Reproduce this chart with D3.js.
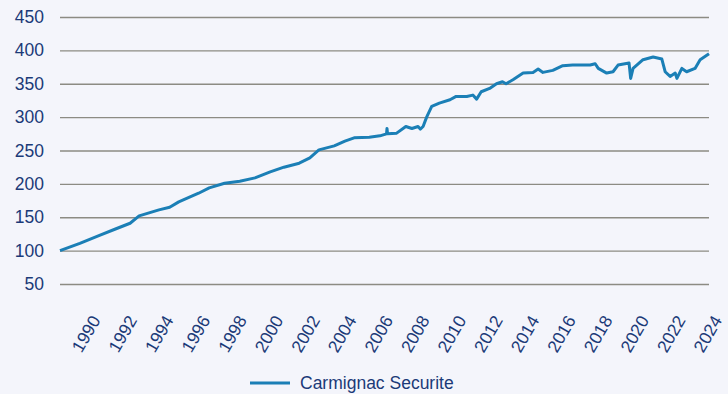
<!DOCTYPE html>
<html>
<head>
<meta charset="utf-8">
<script src="https://cdn.jsdelivr.net/npm/d3@7"></script>
<style>
  html, body { margin: 0; padding: 0; background: #f4f5fb; }
  svg { display: block; font-family: "Liberation Sans", Arial, sans-serif; }
</style>
</head>
<body>
<svg id="chart" width="728" height="394"></svg>
<script>
// Carmignac Securite, rebased to 100 at inception
const seriesName = "Carmignac Securite";

const dates = [
  "1989-01-01", "1990-02-01", "1991-03-01", "1992-01-01", "1992-11-01", "1993-05-01",
  "1993-12-01", "1994-06-01", "1995-01-01", "1995-07-01", "1996-02-01", "1996-08-01",
  "1997-03-01", "1998-01-01", "1998-11-01", "1999-09-01", "2000-07-01", "2001-04-01",
  "2002-02-01", "2002-09-01", "2003-03-01", "2004-01-01", "2004-08-01", "2005-02-01",
  "2005-12-01", "2006-07-01", "2006-11-10", "2006-11-20", "2006-12-01", "2007-06-01",
  "2007-12-01", "2008-04-01", "2008-08-01", "2008-09-15", "2008-11-10", "2009-01-20",
  "2009-05-01", "2009-10-01", "2010-05-01", "2010-09-01", "2011-04-01", "2011-08-01",
  "2011-10-15", "2012-01-15", "2012-07-01", "2012-11-15", "2013-03-15", "2013-05-25",
  "2013-10-10", "2014-05-01", "2014-11-15", "2015-02-25", "2015-06-01", "2015-12-15",
  "2016-07-01", "2017-01-15", "2017-12-31", "2018-04-10", "2018-06-10", "2018-11-25",
  "2019-04-01", "2019-07-10", "2020-02-15", "2020-03-18", "2020-05-05", "2020-11-20",
  "2021-06-10", "2021-12-01", "2022-02-05", "2022-05-15", "2022-08-25", "2022-09-28",
  "2023-01-05", "2023-04-10", "2023-09-25", "2024-01-05", "2024-06-30"
];

const values = [
  100, 111, 123, 132, 141, 152,
  157, 161, 165, 173, 180, 186,
  194, 201, 204, 209, 218, 225,
  231, 239, 251, 257, 264, 269,
  270, 272, 275, 283, 275, 276,
  286, 283, 286, 282, 286, 300,
  316, 321, 326, 331, 331, 333,
  327, 338, 343, 350, 353, 350,
  356, 366, 367, 372, 367, 370,
  377, 378, 378, 380, 373, 366,
  368, 378, 381, 358, 373, 386,
  390, 387, 368, 361, 366, 358,
  373, 368, 373, 386, 395
];

const yTicks = [50, 100, 150, 200, 250, 300, 350, 400, 450];
const xTickYears = d3.range(1990, 2025, 2);

const textColor = "#1b3a78";
const lineColor = "#1b7fb6";
const gridColor = "#8c8b83";

const svg = d3.select("#chart");
const W = 728, H = 394;
const plot = { left: 60, right: 709, top: 17, bottom: 284 };

svg.append("rect").attr("width", W).attr("height", H).attr("fill", "#f4f5fb");

const parse = d3.timeParse("%Y-%m-%d");
const data = dates.map((d, i) => ({ date: parse(d), value: values[i] }));

const x = d3.scaleTime()
  .domain([parse(dates[0]), parse(dates[dates.length - 1])])
  .range([plot.left, plot.right]);

const y = d3.scaleLinear()
  .domain([50, 450])
  .range([plot.bottom, plot.top]);

// horizontal gridlines with value labels
const yAxis = d3.axisLeft(y)
  .tickValues(yTicks)
  .tickSize(-(plot.right - plot.left))
  .tickPadding(16)
  .tickFormat(d3.format("d"));

const gy = svg.append("g")
  .attr("transform", `translate(${plot.left},0)`)
  .call(yAxis);
gy.select(".domain").remove();
gy.selectAll(".tick line")
  .attr("stroke", gridColor)
  .attr("stroke-width", 1.3);
gy.selectAll(".tick text")
  .attr("fill", textColor)
  .attr("font-size", 17.5)
  .attr("x", -16);

// rotated year labels
const xAxis = d3.axisBottom(x)
  .tickValues(xTickYears.map(yr => new Date(yr, 0, 1)))
  .tickSize(0)
  .tickFormat(d3.timeFormat("%Y"));

const gx = svg.append("g")
  .attr("transform", `translate(0,${plot.bottom})`)
  .call(xAxis);
gx.select(".domain").remove();
gx.selectAll(".tick text")
  .attr("fill", textColor)
  .attr("font-size", 17.5)
  .attr("text-anchor", "end")
  .attr("y", 0)
  .attr("dy", "0.35em")
  .attr("transform", "translate(17,33) rotate(-60)");

// performance line
const line = d3.line()
  .x(d => x(d.date))
  .y(d => y(d.value));

svg.append("path")
  .datum(data)
  .attr("fill", "none")
  .attr("stroke", lineColor)
  .attr("stroke-width", 3)
  .attr("stroke-linejoin", "round")
  .attr("d", line);

// legend
const legend = svg.append("g").attr("transform", "translate(250,383)");
legend.append("line")
  .attr("x1", 0).attr("x2", 40)
  .attr("stroke", lineColor)
  .attr("stroke-width", 3);
legend.append("text")
  .attr("x", 50)
  .attr("dy", "0.35em")
  .attr("fill", textColor)
  .attr("font-size", 17.5)
  .text(seriesName);
</script>
</body>
</html>
